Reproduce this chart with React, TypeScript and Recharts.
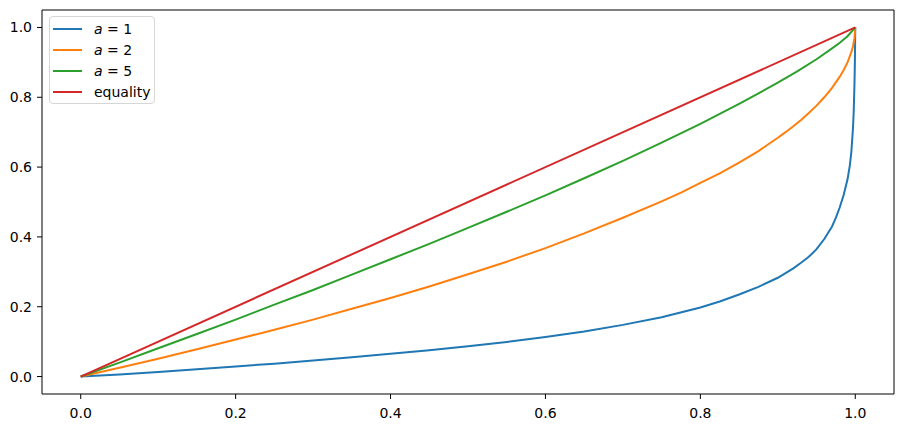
import * as React from "react";
import { LineChart, Line, XAxis, YAxis, ReferenceArea } from "recharts";

// share of population (x) -> share of income (y)
const blueX = [0, 0.05, 0.1, 0.15, 0.2, 0.25, 0.3, 0.35, 0.4, 0.45, 0.5, 0.55, 0.6, 0.65, 0.7, 0.75, 0.8, 0.825, 0.85, 0.875, 0.9, 0.91, 0.92, 0.93, 0.94, 0.95, 0.96, 0.97, 0.975, 0.98, 0.985, 0.99, 0.993, 0.995, 0.997, 0.998, 0.999, 0.9995, 1];
const blueY = [0, 0.006, 0.013, 0.021, 0.029, 0.037, 0.046, 0.055, 0.065, 0.075, 0.087, 0.099, 0.113, 0.129, 0.148, 0.17, 0.198, 0.215, 0.235, 0.257, 0.283, 0.296, 0.31, 0.326, 0.343, 0.365, 0.394, 0.43, 0.455, 0.485, 0.52, 0.565, 0.605, 0.645, 0.71, 0.76, 0.84, 0.9, 1];

const orangeX = [0, 0.05, 0.1, 0.15, 0.2, 0.25, 0.3, 0.35, 0.4, 0.45, 0.5, 0.55, 0.6, 0.65, 0.7, 0.75, 0.775, 0.8, 0.825, 0.85, 0.875, 0.9, 0.91, 0.92, 0.93, 0.94, 0.95, 0.96, 0.97, 0.98, 0.985, 0.99, 0.995, 0.997, 0.999, 1];
const orangeY = [0, 0.025, 0.051, 0.078, 0.106, 0.134, 0.163, 0.194, 0.225, 0.258, 0.293, 0.329, 0.368, 0.41, 0.455, 0.502, 0.527, 0.555, 0.582, 0.613, 0.646, 0.684, 0.7, 0.717, 0.735, 0.755, 0.776, 0.8, 0.827, 0.859, 0.878, 0.9, 0.93, 0.945, 0.97, 1];

const greenX = [0, 0.05, 0.1, 0.15, 0.2, 0.25, 0.3, 0.35, 0.4, 0.45, 0.5, 0.55, 0.6, 0.65, 0.7, 0.75, 0.8, 0.85, 0.875, 0.9, 0.925, 0.95, 0.97, 0.98, 0.99, 1];
const greenY = [0, 0.04, 0.081, 0.122, 0.163, 0.206, 0.248, 0.292, 0.336, 0.38, 0.426, 0.472, 0.519, 0.568, 0.618, 0.67, 0.724, 0.781, 0.811, 0.842, 0.874, 0.909, 0.94, 0.956, 0.975, 1];

const redX = [0, 1];
const redY = [0, 1];

const ticks = [0, 0.2, 0.4, 0.6, 0.8, 1.0];

const series = [
  { name: "a = 1", color: "#1f77b4", xs: blueX, ys: blueY },
  { name: "a = 2", color: "#ff7f0e", xs: orangeX, ys: orangeY },
  { name: "a = 5", color: "#2ca02c", xs: greenX, ys: greenY },
  { name: "equality", color: "#d62728", xs: redX, ys: redY },
];

const FONT = "'DejaVu Sans', sans-serif";

function LegendLabel({ name }: { name: string }) {
  if (name.startsWith("a = ")) {
    return (
      <span>
        <i>a</i> = {name.slice(4)}
      </span>
    );
  }
  return <span>{name}</span>;
}

function LegendBox() {
  return (
    <div
      style={{
        position: "absolute",
        left: 49,
        top: 16,
        width: 106,
        height: 88,
        border: "1px solid #d6d6d6",
        borderRadius: 4,
        background: "rgba(255,255,255,0.8)",
        padding: "1px 0 0 3px",
        fontFamily: FONT,
        fontSize: 14,
        color: "#000",
        boxSizing: "border-box",
      }}
    >
      {series.map((s) => (
        <div
          key={s.name}
          style={{ display: "flex", alignItems: "center", height: 21 }}
        >
          <div
            style={{
              width: 29,
              height: 2,
              background: s.color,
              marginRight: 12,
            }}
          />
          <LegendLabel name={s.name} />
        </div>
      ))}
    </div>
  );
}

export default function App() {
  const lines = series.map((s) => ({
    ...s,
    points: s.xs.map((x, i) => ({ x, y: s.ys[i] })),
  }));

  return (
    <div
      style={{
        position: "absolute",
        left: 0,
        top: 0,
        width: 904,
        height: 428,
        background: "#fff",
      }}
    >
      <LineChart
        width={904}
        height={428}
        margin={{ top: 10, right: 10, left: 0, bottom: 0 }}
      >
        <XAxis
          dataKey="x"
          type="number"
          domain={[-0.05, 1.05]}
          ticks={ticks}
          tickFormatter={(v: number) => v.toFixed(1)}
          allowDuplicatedCategory={false}
          height={34}
          axisLine={false}
          tickSize={5}
          tickMargin={9}
          tickLine={{ stroke: "#000" }}
          tick={{ fill: "#000", fontSize: 14, fontFamily: FONT }}
        />
        <YAxis
          dataKey="y"
          type="number"
          domain={[-0.05, 1.05]}
          ticks={ticks}
          tickFormatter={(v: number) => v.toFixed(1)}
          width={42}
          axisLine={false}
          tickSize={5}
          tickMargin={5}
          tickLine={{ stroke: "#000" }}
          tick={{ fill: "#000", fontSize: 14, fontFamily: FONT }}
        />
        {lines.map((s) => (
          <Line
            key={s.name}
            data={s.points}
            dataKey="y"
            name={s.name}
            type="linear"
            stroke={s.color}
            strokeWidth={2}
            dot={false}
            activeDot={false}
            isAnimationActive={false}
          />
        ))}
        <ReferenceArea
          x1={-0.05}
          x2={1.05}
          y1={-0.05}
          y2={1.05}
          fill="none"
          fillOpacity={0}
          stroke="#000"
          strokeOpacity={1}
          strokeWidth={1}
        />
      </LineChart>
      <LegendBox />
    </div>
  );
}
